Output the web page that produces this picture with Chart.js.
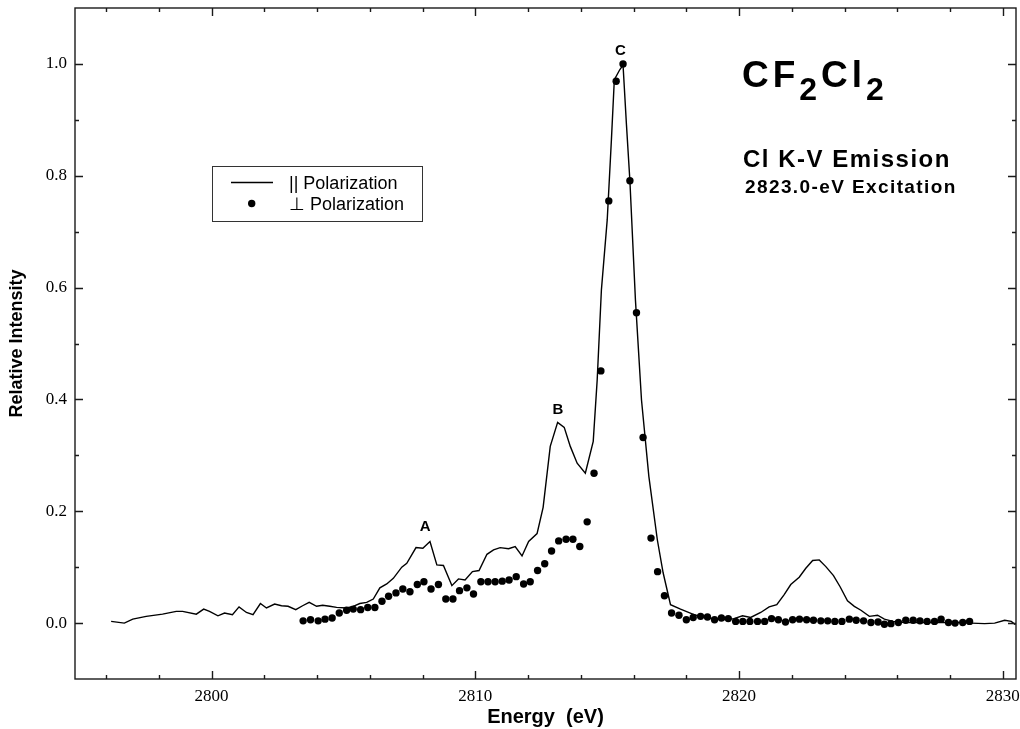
<!DOCTYPE html>
<html lang="en">
<head>
    <meta charset="UTF-8">
    <title>CF2Cl2 Cl K-V Emission</title>
    <style>
        body { margin: 0; background: #ffffff; }
        #wrap { width: 1020px; height: 729px; }
    </style>
</head>
<body>
    <div id="wrap"><canvas id="emissionChart" width="1020" height="729"></canvas></div>

    <script src="https://cdn.jsdelivr.net/npm/chart.js"></script>
    <script>
// === DATA ===
// || polarization, solid line
const parEnergy = [
    2796.19, 2796.69, 2797.01, 2797.52, 2798.14, 2798.66, 2798.90, 2799.42, 2799.70, 2799.92,
    2800.24, 2800.49, 2800.79, 2801.04, 2801.32, 2801.57, 2801.85, 2802.08, 2802.39, 2802.65,
    2802.90, 2803.19, 2803.45, 2803.70, 2803.98, 2804.21, 2804.48, 2804.74, 2805.12, 2805.37,
    2805.62, 2805.88, 2806.13, 2806.38, 2806.64, 2806.89, 2807.21, 2807.40, 2807.75, 2808.01,
    2808.28, 2808.54, 2808.79, 2809.11, 2809.36, 2809.61, 2809.89, 2810.14, 2810.44, 2810.69,
    2810.94, 2811.26, 2811.51, 2811.77, 2812.02, 2812.34, 2812.57, 2812.84, 2813.12, 2813.37,
    2813.60, 2813.86, 2814.17, 2814.47, 2814.62, 2814.78, 2815.00, 2815.16, 2815.27, 2815.48,
    2815.60, 2815.73, 2815.86, 2816.07, 2816.30, 2816.58, 2816.90, 2817.12, 2817.40, 2817.78,
    2818.29, 2818.80, 2819.37, 2819.81, 2820.13, 2820.44, 2820.82, 2821.14, 2821.43, 2821.71,
    2821.96, 2822.28, 2822.53, 2822.79, 2823.04, 2823.29, 2823.58, 2823.83, 2824.11, 2824.37,
    2824.62, 2824.94, 2825.25, 2825.51, 2825.83, 2826.27, 2826.90, 2827.66, 2828.23, 2828.80,
    2829.31, 2829.69, 2830.07, 2830.32, 2830.48
];
const parIntensity = [
    0.003, 0.000, 0.007, 0.012, 0.016, 0.021, 0.021, 0.016, 0.025, 0.021,
    0.013, 0.018, 0.015, 0.029, 0.019, 0.015, 0.035, 0.027, 0.034, 0.031,
    0.030, 0.024, 0.031, 0.037, 0.030, 0.032, 0.030, 0.028, 0.027, 0.030,
    0.035, 0.037, 0.043, 0.063, 0.070, 0.080, 0.100, 0.107, 0.135, 0.134,
    0.146, 0.104, 0.103, 0.067, 0.079, 0.077, 0.092, 0.094, 0.123, 0.131,
    0.135, 0.133, 0.137, 0.120, 0.146, 0.160, 0.207, 0.316, 0.359, 0.350,
    0.316, 0.286, 0.268, 0.325, 0.435, 0.596, 0.721, 0.865, 0.972, 0.990,
    0.998, 0.891, 0.791, 0.578, 0.399, 0.262, 0.149, 0.090, 0.033, 0.025,
    0.015, 0.009, 0.006, 0.008, 0.013, 0.010, 0.019, 0.029, 0.033, 0.051,
    0.069, 0.082, 0.098, 0.112, 0.113, 0.101, 0.085, 0.065, 0.040, 0.030,
    0.023, 0.012, 0.014, 0.007, 0.003, 0.001, 0.001, 0.001, 0.001, 0.000,
    -0.001, 0.000, 0.005, 0.003, -0.003
];

// ⊥ polarization, dots
const perpEnergy = [
    2803.47, 2803.75, 2804.04, 2804.30, 2804.57, 2804.84, 2805.12, 2805.37, 2805.65, 2805.92,
    2806.19, 2806.46, 2806.71, 2806.99, 2807.25, 2807.52, 2807.80, 2808.05, 2808.32, 2808.60,
    2808.88, 2809.15, 2809.40, 2809.68, 2809.93, 2810.21, 2810.48, 2810.75, 2811.02, 2811.28,
    2811.55, 2811.83, 2812.08, 2812.36, 2812.63, 2812.89, 2813.16, 2813.44, 2813.70, 2813.96,
    2814.24, 2814.50, 2814.76, 2815.06, 2815.34, 2815.60, 2815.86, 2816.11, 2816.36, 2816.66,
    2816.91, 2817.17, 2817.44, 2817.72, 2818.00, 2818.26, 2818.54, 2818.80, 2819.07, 2819.33,
    2819.59, 2819.87, 2820.14, 2820.41, 2820.70, 2820.97, 2821.23, 2821.49, 2821.76, 2822.03,
    2822.29, 2822.56, 2822.82, 2823.10, 2823.36, 2823.63, 2823.90, 2824.18, 2824.44, 2824.72,
    2825.00, 2825.27, 2825.51, 2825.76, 2826.04, 2826.32, 2826.60, 2826.86, 2827.13, 2827.41,
    2827.66, 2827.94, 2828.19, 2828.48, 2828.74
];
const perpIntensity = [
    0.004, 0.006, 0.004, 0.007, 0.009, 0.018, 0.023, 0.025, 0.024, 0.028,
    0.028, 0.039, 0.048, 0.054, 0.061, 0.056, 0.069, 0.074, 0.061, 0.069,
    0.043, 0.043, 0.058, 0.063, 0.052, 0.074, 0.074, 0.074, 0.075, 0.077,
    0.083, 0.070, 0.074, 0.094, 0.106, 0.129, 0.147, 0.150, 0.150, 0.137,
    0.181, 0.268, 0.451, 0.755, 0.969, 1.000, 0.791, 0.555, 0.332, 0.152,
    0.092, 0.049, 0.018, 0.014, 0.006, 0.010, 0.012, 0.011, 0.006, 0.009,
    0.008, 0.003, 0.003, 0.003, 0.003, 0.003, 0.008, 0.006, 0.002, 0.006,
    0.007, 0.006, 0.005, 0.004, 0.004, 0.003, 0.003, 0.007, 0.005, 0.004,
    0.001, 0.002, -0.002, -0.001, 0.001, 0.005, 0.005, 0.004, 0.003, 0.003,
    0.007, 0.001, 0.000, 0.001, 0.003
];

// peak letters and where they sit (energy, intensity)
const peakNames = ['A', 'B', 'C'];
const peakEnergy = [2808.1, 2813.13, 2815.5];
const peakLabelY = [0.172, 0.382, 1.023];

const xMajor = [2800, 2810, 2820, 2830];

// === frame, inward ticks, labels, legend ===
const framePlugin = {
    id: 'frame',
    afterDraw(chart) {
        const ctx = chart.ctx;
        const a = chart.chartArea;
        const xs = chart.scales.x;
        const ys = chart.scales.y;
        ctx.save();
        ctx.strokeStyle = '#1a1a1a';
        ctx.lineWidth = 1.4;
        ctx.strokeRect(a.left, a.top, a.right - a.left, a.bottom - a.top);

        // x ticks every 2 eV, long every 10
        ctx.beginPath();
        for (let v = 2796; v <= 2830; v += 2) {
            const px = Math.round(xs.getPixelForValue(v)) + 0.5;
            const len = xMajor.includes(v) ? 8 : 4;
            ctx.moveTo(px, a.bottom); ctx.lineTo(px, a.bottom - len);
            ctx.moveTo(px, a.top); ctx.lineTo(px, a.top + len);
        }
        // y ticks every 0.1, long every 0.2
        for (let k = 0; k <= 10; k++) {
            const py = Math.round(ys.getPixelForValue(k / 10)) + 0.5;
            const len = k % 2 === 0 ? 8 : 4;
            ctx.moveTo(a.left, py); ctx.lineTo(a.left + len, py);
            ctx.moveTo(a.right, py); ctx.lineTo(a.right - len, py);
        }
        ctx.stroke();

        // peak letters
        ctx.fillStyle = '#000';
        ctx.font = 'bold 15px "Liberation Sans", Arial, sans-serif';
        ctx.textAlign = 'center';
        ctx.textBaseline = 'middle';
        peakNames.forEach((n, i) => {
            ctx.fillText(n, xs.getPixelForValue(peakEnergy[i]), ys.getPixelForValue(peakLabelY[i]));
        });

        // molecule name with subscripts
        ctx.textAlign = 'left';
        ctx.textBaseline = 'alphabetic';
        ctx.letterSpacing = '4px';
        const parts = [['CF', 0], ['2', 1], ['Cl', 0], ['2', 1]];
        let tx = 742;
        parts.forEach(([s, sub]) => {
            ctx.font = sub ? 'bold 32px "Liberation Sans", Arial, sans-serif'
                           : 'bold 37px "Liberation Sans", Arial, sans-serif';
            ctx.fillText(s, tx, sub ? 100 : 87);
            tx += ctx.measureText(s).width;
        });

        ctx.letterSpacing = '1.5px';
        ctx.font = 'bold 24px "Liberation Sans", Arial, sans-serif';
        ctx.fillText('Cl K-V Emission', 743, 167);
        ctx.letterSpacing = '1.4px';
        ctx.font = 'bold 19px "Liberation Sans", Arial, sans-serif';
        ctx.fillText('2823.0-eV Excitation', 745, 193);
        ctx.letterSpacing = '0px';

        // legend box
        ctx.lineWidth = 1;
        ctx.strokeStyle = '#333';
        ctx.strokeRect(212.5, 166.5, 210, 55);
        ctx.strokeStyle = '#000';
        ctx.lineWidth = 1.4;
        ctx.beginPath();
        ctx.moveTo(231, 182.5); ctx.lineTo(273, 182.5);
        ctx.stroke();
        ctx.beginPath();
        ctx.arc(251.7, 203.5, 3.7, 0, Math.PI * 2);
        ctx.fill();
        ctx.font = '18px "Liberation Sans", Arial, sans-serif';
        ctx.fillText('|| Polarization', 289, 189);
        ctx.fillText('\u22A5 Polarization', 289, 210);
        ctx.restore();
    }
};

const ctx1 = document.getElementById('emissionChart').getContext('2d');
new Chart(ctx1, {
    type: 'line',
    data: {
        datasets: [{
            label: '|| Polarization',
            data: parEnergy.map((e, i) => ({ x: e, y: parIntensity[i] })),
            borderColor: '#000',
            borderWidth: 1.4,
            pointRadius: 0,
            tension: 0,
            fill: false
        }, {
            label: '\u22A5 Polarization',
            data: perpEnergy.map((e, i) => ({ x: e, y: perpIntensity[i] })),
            showLine: false,
            pointRadius: 3.7,
            pointBackgroundColor: '#000',
            pointBorderWidth: 0
        }]
    },
    options: {
        responsive: false,
        animation: false,
        layout: { padding: { left: 0, right: 0, top: 8, bottom: 0 } },
        scales: {
            x: {
                type: 'linear',
                min: 2794.82,
                max: 2830.5,
                afterFit: s => {
                    s.height = 50;
                    s.paddingLeft = 0;
                    s.paddingRight = 0;
                },
                grid: { display: false, drawTicks: false },
                border: { display: false },
                ticks: {
                    stepSize: 2,
                    includeBounds: false,
                    autoSkip: false,
                    maxRotation: 0,
                    padding: 7,
                    color: '#000',
                    font: { family: '"Liberation Serif", "Times New Roman", serif', size: 17 },
                    callback: v => (xMajor.includes(v) ? String(v) : '')
                },
                title: {
                    display: true,
                    text: 'Energy  (eV)',
                    color: '#000',
                    padding: { top: 0, bottom: 0 },
                    font: { family: '"Liberation Sans", Arial, sans-serif', size: 20, weight: 'bold' }
                }
            },
            y: {
                min: -0.1,
                max: 1.1,
                afterFit: s => {
                    s.width = 75;
                    s.paddingTop = 0;
                    s.paddingBottom = 0;
                },
                grid: { display: false, drawTicks: false },
                border: { display: false },
                ticks: {
                    stepSize: 0.1,
                    autoSkip: false,
                    padding: 8,
                    color: '#000',
                    font: { family: '"Liberation Serif", "Times New Roman", serif', size: 17 },
                    callback: v => {
                        const k = Math.round(v * 10);
                        return (k % 2 === 0 && k >= 0 && k <= 10) ? (k / 10).toFixed(1) : '';
                    }
                },
                title: {
                    display: true,
                    text: 'Relative Intensity',
                    color: '#000',
                    padding: { top: 6, bottom: 0 },
                    font: { family: '"Liberation Sans", Arial, sans-serif', size: 18, weight: 'bold' }
                }
            }
        },
        plugins: {
            legend: { display: false },
            tooltip: { enabled: false }
        }
    },
    plugins: [framePlugin]
});
    </script>
</body>
</html>
